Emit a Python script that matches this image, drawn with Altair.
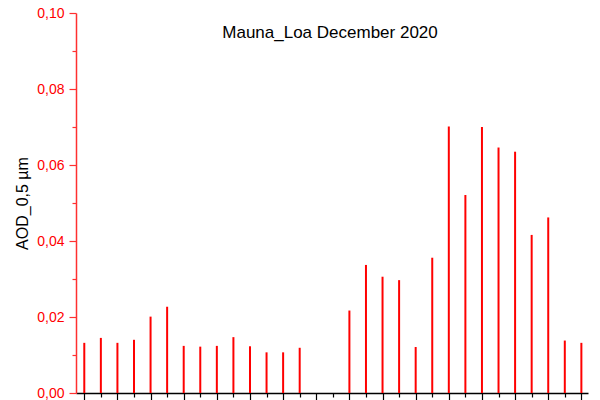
import altair as alt
import pandas as pd

days = [1, 2, 3, 4, 5, 6, 7, 8, 9, 10, 11, 12, 13, 14,
        17, 18, 19, 20, 21, 22, 23, 24, 25, 26, 27, 28, 29, 30, 31]
aod = [0.0132, 0.0145, 0.0132, 0.0140, 0.0201, 0.0227, 0.0124, 0.0122, 0.0124, 0.0147,
       0.0123, 0.0107, 0.0107, 0.0119,
       0.0217, 0.0337, 0.0306, 0.0297, 0.0121, 0.0356, 0.0701, 0.0521, 0.0700, 0.0646,
       0.0635, 0.0416, 0.0462, 0.0138, 0.0132]
title_text = "Mauna_Loa December 2020"
y_ticks = [0, 0.01, 0.02, 0.03, 0.04, 0.05, 0.06, 0.07, 0.08, 0.09, 0.10]
x_ticks = list(range(1, 32))

df = pd.DataFrame({"day": days, "aod": aod})
FONT = "Liberation Sans"

spikes = alt.Chart(df).mark_rule(color="#ff0000", strokeWidth=2).encode(
    x=alt.X("day:Q",
            scale=alt.Scale(domain=[0.5, 31.4], nice=False, zero=False),
            axis=alt.Axis(values=x_ticks, labels=False, title=None, grid=False,
                          domainColor="#000000", domainWidth=1.5,
                          tickColor="#000000", tickWidth=1.2,
                          tickSize={"condition": {"test": "datum.value % 2 == 1", "value": 9},
                                    "value": 4})),
    y=alt.Y("aod:Q",
            scale=alt.Scale(domain=[0, 0.1], nice=False),
            axis=alt.Axis(values=y_ticks, grid=False, title="AOD_0,5 µm",
                          titleFont=FONT, titleFontSize=16, titleFontWeight="normal",
                          titleColor="#000000", titlePadding=6,
                          labelFont=FONT, labelFontSize=14, labelColor="#ff0000",
                          labelPadding=5,
                          labelExpr="round(datum.value*100) % 2 == 0 ? replace(format(datum.value, '.2f'), '.', ',') : ''",
                          domainColor="#ff3030", domainWidth=1.5,
                          tickColor="#ff3030", tickWidth=1.2,
                          tickSize={"condition": {"test": "round(datum.value*100) % 2 == 0", "value": 7},
                                    "value": 4})),
    y2=alt.datum(0),
)

label = alt.Chart(pd.DataFrame({"t": [title_text]})).mark_text(
    font=FONT, fontSize=17, color="#000000", align="center", baseline="middle"
).encode(x=alt.value(254), y=alt.value(20), text="t:N")

chart = (spikes + label).properties(
    width=512, height=380,
    autosize=alt.AutoSizeParams(type="none"),
    padding={"left": 68, "top": 5, "right": 4, "bottom": 20},
).configure_view(stroke=None)

chart.save("out.html", embed_options={"renderer": "svg", "actions": False})
